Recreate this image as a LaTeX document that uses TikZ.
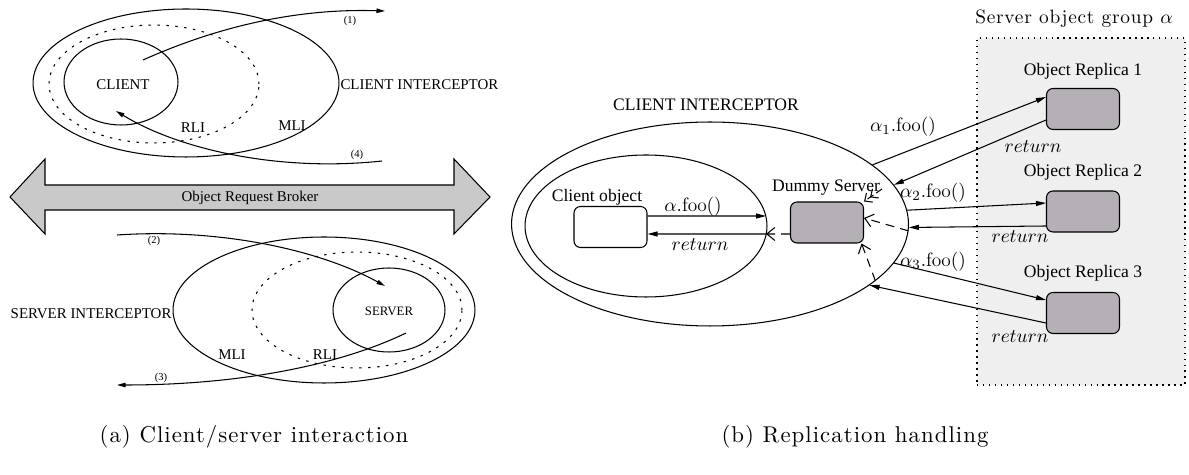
\documentclass[tikz,border=0pt]{standalone}
\usepackage{amsmath}
\usepackage{fontspec}
\newfontfamily\figfont{Liberation Serif}
\newfontfamily\capfont{lmroman10-regular.otf}[LetterSpace=4.5]
\newfontfamily\grpfont{lmroman10-regular.otf}[LetterSpace=4]
\usetikzlibrary{arrows.meta,shapes.geometric}

\definecolor{orbgray}{RGB}{201,201,201}
\definecolor{boxgray}{RGB}{181,176,181}
\definecolor{groupbg}{RGB}{239,239,239}

\tikzset{
  fig/.style={font=\figfont\fontsize{8.5pt}{10pt}\selectfont, inner sep=0pt},
  tiny/.style={font=\figfont\fontsize{6pt}{7pt}\selectfont, inner sep=0pt},
  big/.style={font=\figfont\fontsize{10pt}{12pt}\selectfont, inner sep=0pt},
  lbl/.style={font=\fontsize{11pt}{13pt}\selectfont, inner sep=0pt},
  capt/.style={font=\capfont\fontsize{13pt}{15pt}\selectfont, inner sep=0pt},
  grplbl/.style={font=\grpfont\fontsize{11pt}{13pt}\selectfont, inner sep=0pt},
  oval/.style={draw, ellipse, inner sep=0pt},
  dotline/.style={dash pattern=on 1.4pt off 3.7pt},
  flow/.style={-{Triangle[length=2mm,width=1mm]}},
  smallflow/.style={-{Triangle[length=1.7mm,width=0.9mm]}},
  barb/.style={dash pattern=on 5pt off 3.5pt, -{Straight Barb[length=1.6mm,width=2.6mm]}},
  dbarb/.style={-{Straight Barb[length=1.2mm,width=2.2mm]Straight Barb[length=1.2mm,width=2.2mm]}},
  obj/.style={draw, rounded corners=0.13cm, minimum width=1.46cm, minimum height=0.82cm},
}

\begin{document}
\begin{tikzpicture}[x=0.02cm, y=-0.02cm, line width=0.6pt]
\useasboundingbox (0,0) rectangle (1189,475);

% client side
\node[oval, minimum width=6.12cm, minimum height=2.96cm] (ci) at (186,83) {};
\node[oval, dotline, minimum width=4.2cm, minimum height=2.36cm] (crli) at (154,84) {};
\node[oval, minimum width=2.28cm, minimum height=1.72cm] (cl) at (121,82) {};
\node[fig] (cltxt) at (123,85) {CLIENT};
\node[fig, anchor=west] (citxt) at (340,85) {CLIENT INTERCEPTOR};
\node[fig] (crlitxt) at (193,128) {RLI};
\node[fig] (cmlitxt) at (292,126) {MLI};

\coordinate (s1) at (143,60);
\coordinate (e1) at (385,11);
\draw[smallflow] (s1) .. controls (210,30) and (290,8) .. (e1);
\node[tiny] (n1) at (350,21) {(1)};
\coordinate (s4) at (382,161);
\coordinate (e4) at (116,111);
\draw[smallflow] (s4) .. controls (280,172) and (180,150) .. (e4);
\node[tiny] (n4) at (357,155) {(4)};

% broker
\filldraw[fill=orbgray] (10,197) -- (45,159) -- (45,185) -- (454,185) -- (454,159)
  -- (490,197) -- (454,234) -- (454,210) -- (45,210) -- (45,234) -- cycle;
\node[fig] (orb) at (250,198) {Object Request Broker};

% server side
\node[oval, minimum width=6.04cm, minimum height=2.92cm] (si) at (324,310) {};
\node[oval, dotline, minimum width=4.2cm, minimum height=2.32cm] (srli) at (357,310) {};
\node[oval, minimum width=2.24cm, minimum height=1.68cm] (sv) at (389,310) {};
\node[fig, font=\figfont\fontsize{7.3pt}{9pt}\selectfont] (svtxt) at (389,311) {SERVER};
\node[fig, anchor=east] (sitxt) at (172,314) {SERVER INTERCEPTOR};
\node[fig] (smlitxt) at (232,355) {MLI};
\node[fig] (srlitxt) at (325,355) {RLI};

\coordinate (s2) at (117,235);
\coordinate (e2) at (385,286);
\draw[smallflow] (s2) .. controls (220,228) and (320,250) .. (e2);
\node[tiny] (n2) at (154,241) {(2)};
\coordinate (s3) at (406,333);
\coordinate (e3) at (117,385);
\draw[smallflow] (s3) .. controls (340,365) and (240,385) .. (e3);
\node[tiny] (n3) at (161,378) {(3)};

% replication handling
\node[big] (rcitxt) at (706,105) {CLIENT INTERCEPTOR};
\node[oval, minimum width=7.94cm, minimum height=4.08cm] (cio) at (710,224) {};
\node[oval, minimum width=4.84cm, minimum height=2.84cm] (cii) at (646,226) {};
\node[obj, fill=white] (co) at (610.5,227) {};
\node[big] (cotxt) at (597,197) {Client object};
\node[obj, fill=boxgray] (ds) at (827,222.5) {};
\node[big] (dstxt) at (826,188) {Dummy Server};

\coordinate (ci1) at (766,216);
\coordinate (ci2) at (766,234);
\draw[flow] ([yshift=0.22cm]co.east) -- (ci1);
\draw[flow] (ci2) -- ([yshift=-0.14cm]co.east);
\draw[barb] ([yshift=-0.23cm]ds.west) -- (ci2);
\node[lbl] (foo) at (693,207) {$\alpha.\mathrm{foo}()$};
\node[lbl] (ret) at (700,245) {$return$};

% object group
\node[draw, fill=groupbg, line width=0.8pt, dash pattern=on 0.8pt off 2.6pt,
  minimum width=4.16cm, minimum height=6.94cm] (grp) at (1081,211.5) {};
\node[grplbl] (grptxt) at (1074,19) {Server object group $\alpha$};

\node[obj, fill=boxgray] (r1) at (1083,109) {};
\node[obj, fill=boxgray] (r2) at (1083,211.5) {};
\node[obj, fill=boxgray] (r3) at (1083,313) {};
\node[big] (r1txt) at (1083,71) {Object Replica 1};
\node[big] (r2txt) at (1083,172) {Object Replica 2};
\node[big] (r3txt) at (1083,273) {Object Replica 3};

\draw[flow] (cio.20) -- ([yshift=0.24cm]r1.west);
\draw[flow] ([yshift=-0.22cm]r1.west) -- (cio.12);
\draw[flow] (cio.4) -- ([yshift=0.17cm]r2.west);
\draw[flow] ([yshift=-0.29cm]r2.west) -- (cio.-1);
\draw[flow] (cio.-12) -- ([yshift=0.26cm]r3.west);
\draw[flow] ([yshift=-0.2cm]r3.west) -- (cio.-21);
\node[lbl] (foo1) at (903,127) {$\alpha_1.\mathrm{foo}()$};
\node[lbl] (foo2) at (933,193) {$\alpha_2.\mathrm{foo}()$};
\node[lbl] (foo3) at (933,262) {$\alpha_3.\mathrm{foo}()$};
\node[lbl] (ret1) at (1033,147) {$return$};
\node[lbl] (ret2) at (1020,237) {$return$};
\node[lbl] (ret3) at (1020,337) {$return$};

\coordinate (dsin) at (882,189);
\draw[dbarb, dash pattern=on 4pt off 2pt] (dsin) -- (ds.north east);
\draw[barb] (cio.-2) -- ([yshift=0.09cm]ds.east);
\draw[barb] (cio.-19) -- ([xshift=-0.05cm]ds.south east);

% captions
\node[capt] (capa) at (254,437) {(a) Client/server interaction};
\node[capt] (capb) at (855,437) {(b) Replication handling};
\end{tikzpicture}
\end{document}
